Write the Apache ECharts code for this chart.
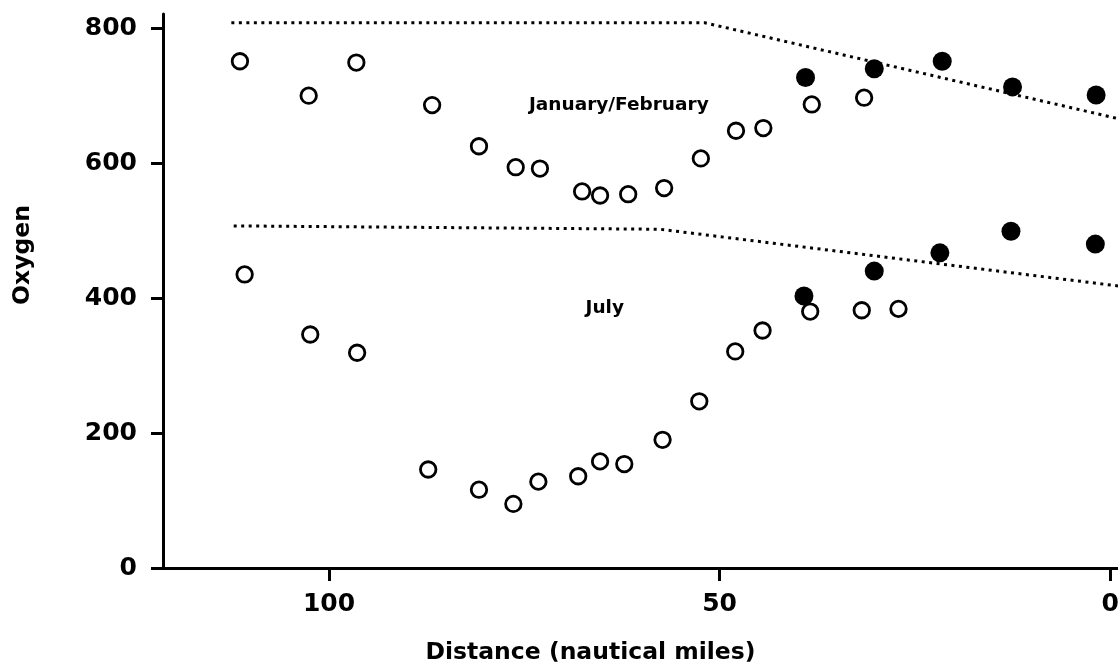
<!DOCTYPE html>
<html>
<head>
<meta charset="utf-8">
<script src="https://cdn.jsdelivr.net/npm/echarts@6/dist/echarts.min.js"></script>
<style>html,body{margin:0;padding:0;background:#fff}#c{width:1118px;height:664px}</style>
</head>
<body>
<div id="c"></div>
<script>
// Jan/Feb open circles
const janOpenDist = [111.4, 102.6, 96.5, 86.8, 80.8, 76.1, 73.0, 67.6, 65.3, 61.7, 57.1, 52.4, 47.9, 44.4, 38.2, 31.5];
const janOpenOxy  = [751, 700, 749, 686, 625, 594, 592, 558, 552, 554, 563, 607, 648, 652, 687, 697];
// Jan/Feb filled circles
const janFillDist = [39.0, 30.2, 21.5, 12.5, 1.8];
const janFillOxy  = [727, 740, 751, 713, 701];
// July open circles
const julOpenDist = [110.8, 102.4, 96.4, 87.3, 80.8, 76.4, 73.2, 68.1, 65.3, 62.2, 57.3, 52.6, 48.0, 44.5, 38.4, 31.8, 27.1];
const julOpenOxy  = [435, 346, 319, 146, 116, 95, 128, 136, 158, 154, 190, 247, 321, 352, 380, 382, 384];
// July filled circles
const julFillDist = [39.2, 30.2, 21.8, 12.7, 1.9];
const julFillOxy  = [403, 440, 467, 499, 480];
// Saturation (dotted) curves
const janCurveDist = [112.5, 51.9, -1];
const janCurveOxy  = [808, 808, 666];
const julCurveDist = [112.2, 57.6, -1];
const julCurveOxy  = [507, 502, 418];
// Text annotations
const noteText = ['January/February', 'July'];
const noteDist = [62.9, 64.7];
const noteOxy  = [686, 385];
// Ticks
const xTicks = [0, 50, 100];
const yTicks = [0, 200, 400, 600, 800];

const zip = (a, b) => a.map((v, i) => [v, b[i]]);
const FONT = 'DejaVu Sans';

const chart = echarts.init(document.getElementById('c'), null, {renderer: 'canvas'});
const tickStyle = {color: '#000', width: 3};
chart.setOption({
  animation: false,
  backgroundColor: '#fff',
  grid: {left: 163, right: 0, top: 14, bottom: 96, containLabel: false, outerBoundsMode: 'none'},
  xAxis: {
    type: 'value', inverse: true, min: -1, max: 121.25,
    axisLine: {show: true, onZero: false, lineStyle: {color: '#000', width: 3}},
    splitLine: {show: false},
    axisTick: {show: true, inside: false, length: 13, customValues: xTicks, lineStyle: tickStyle},
    axisLabel: {customValues: xTicks, margin: 24, color: '#000', fontFamily: FONT, fontWeight: 'bold', fontSize: 25},
    name: 'Distance (nautical miles)', nameLocation: 'middle', nameGap: 73,
    nameTextStyle: {color: '#000', fontFamily: FONT, fontWeight: 'bold', fontSize: 23.5, padding: [0, 100, 0, 0]}
  },
  yAxis: {
    type: 'value', min: 0, max: 821,
    axisLine: {show: true, onZero: false, lineStyle: {color: '#000', width: 3}},
    splitLine: {show: false},
    axisTick: {show: true, inside: false, length: 12, customValues: yTicks, lineStyle: tickStyle},
    axisLabel: {customValues: yTicks, margin: 26, color: '#000', fontFamily: FONT, fontWeight: 'bold', fontSize: 25},
    name: 'Oxygen', nameLocation: 'middle', nameGap: 128,
    nameTextStyle: {color: '#000', fontFamily: FONT, fontWeight: 'bold', fontSize: 23.5, padding: [0, 0, 0, 72]}
  },
  series: [
    {type: 'line', data: zip(janCurveDist, janCurveOxy), showSymbol: false, symbol: 'none',
     lineStyle: {color: '#000', width: 3, type: [3, 4.5], opacity: 1}, z: 1},
    {type: 'line', data: zip(julCurveDist, julCurveOxy), showSymbol: false, symbol: 'none',
     lineStyle: {color: '#000', width: 3, type: [3, 4.5], opacity: 1}, z: 1},
    {type: 'scatter', data: zip(janFillDist, janFillOxy), symbol: 'circle', symbolSize: 19,
     itemStyle: {color: '#000', opacity: 1}, z: 2},
    {type: 'scatter', data: zip(julFillDist, julFillOxy), symbol: 'circle', symbolSize: 19,
     itemStyle: {color: '#000', opacity: 1}, z: 2},
    {type: 'scatter', data: zip(janOpenDist, janOpenOxy), symbol: 'circle', symbolSize: 15.5,
     itemStyle: {color: '#fff', borderColor: '#000', borderWidth: 2.8, opacity: 1}, z: 3},
    {type: 'scatter', data: zip(julOpenDist, julOpenOxy), symbol: 'circle', symbolSize: 15.5,
     itemStyle: {color: '#fff', borderColor: '#000', borderWidth: 2.8, opacity: 1}, z: 3},
    {type: 'scatter', symbolSize: 0, z: 4,
     itemStyle: {opacity: 1},
     data: noteText.map((t, i) => ({name: t, value: [noteDist[i], noteOxy[i]]})),
     label: {show: true, position: 'inside', formatter: '{b}', color: '#000', opacity: 1,
             fontFamily: FONT, fontWeight: 'bold', fontSize: 18.5}}
  ]
});
</script>
</body>
</html>
